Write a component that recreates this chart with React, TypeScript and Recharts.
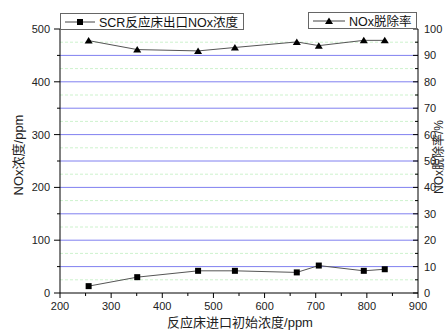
import React from 'react';
import { LineChart, Line, XAxis, YAxis, ReferenceLine, Legend } from 'recharts';

const INLET = [256, 351, 470, 542, 663, 706, 794, 835];
const OUTLET = [13, 30, 42, 42, 39, 52, 42, 45];
const REMOVAL = [95.6, 92.2, 91.7, 93.0, 95.1, 93.7, 95.7, 95.7];

const X_TICKS = [200, 250, 300, 350, 400, 450, 500, 550, 600, 650, 700, 750, 800, 850, 900];
const LEFT_TICKS = [0, 50, 100, 150, 200, 250, 300, 350, 400, 450, 500];
const RIGHT_TICKS = [0, 5, 10, 15, 20, 25, 30, 35, 40, 45, 50, 55, 60, 65, 70, 75, 80, 85, 90, 95, 100];
const MAJOR_GRID = [50, 100, 150, 200, 250, 300, 350, 400, 450];
const MINOR_GRID = [25, 75, 125, 175, 225, 275, 325, 375, 425, 475];

const OUTLET_NAME = 'SCR反应床出口NOx浓度';
const REMOVAL_NAME = 'NOx脱除率';

const FONT = '"Liberation Sans", Arial, "Noto Sans CJK SC", sans-serif';

const data = INLET.map((x, i) => ({ x, outlet: OUTLET[i], removal: REMOVAL[i] }));

const XTick = ({ x, y, payload }: any) => {
  const major = payload.value % 100 === 0;
  return (
    <g>
      <line x1={x} x2={x} y1={y} y2={y + (major ? 5 : 3)} stroke="#000" />
      {major && (
        <text x={x} y={y + 17} textAnchor="middle" fontSize={11} fill="#222" fontFamily={FONT}>
          {payload.value}
        </text>
      )}
    </g>
  );
};

const LeftTick = ({ x, y, payload }: any) => {
  const major = payload.value % 100 === 0;
  return (
    <g>
      <line x1={x - (major ? 6 : 3)} x2={x} y1={y} y2={y} stroke="#000" />
      {major && (
        <text x={x - 10} y={y + 4} textAnchor="end" fontSize={11} fill="#222" fontFamily={FONT}>
          {payload.value}
        </text>
      )}
    </g>
  );
};

const RightTick = ({ x, y, payload }: any) => {
  const major = payload.value % 10 === 0;
  return (
    <g>
      <line x1={x - (major ? 5 : 3)} x2={x} y1={y} y2={y} stroke="#000" />
      {major && (
        <text x={x + 6} y={y + 4} textAnchor="start" fontSize={11} fill="#222" fontFamily={FONT}>
          {payload.value}
        </text>
      )}
    </g>
  );
};

const SquareDot = ({ cx, cy }: any) => (
  <rect x={cx - 3} y={cy - 3} width={6} height={6} fill="#000" />
);

const TriangleDot = ({ cx, cy }: any) => (
  <polygon points={`${cx},${cy - 3.5} ${cx - 4},${cy + 3} ${cx + 4},${cy + 3}`} fill="#000" />
);

const boxStyle: React.CSSProperties = {
  position: 'absolute',
  background: '#fff',
  border: '1px solid #666',
  display: 'flex',
  alignItems: 'center',
  fontFamily: FONT,
  fontSize: 12.5,
  color: '#111',
  whiteSpace: 'nowrap',
  boxSizing: 'border-box',
};

const LegendBoxes = () => (
  <div style={{ position: 'relative', width: 447, height: 333 }}>
    <div style={{ ...boxStyle, left: 60, top: 13, width: 184, height: 17 }}>
      <svg width={34} height={14} style={{ marginLeft: 2 }}>
        <line x1={2} x2={32} y1={7} y2={7} stroke="#444" />
        <rect x={14} y={4} width={6} height={6} fill="#000" />
      </svg>
      <span style={{ marginLeft: 2 }}>{OUTLET_NAME}</span>
    </div>
    <div style={{ ...boxStyle, left: 308, top: 12, width: 109, height: 17 }}>
      <svg width={36} height={14} style={{ marginLeft: 2 }}>
        <line x1={2} x2={34} y1={7} y2={7} stroke="#444" />
        <polygon points="18,3.5 14,10 22,10" fill="#000" />
      </svg>
      <span style={{ marginLeft: 2 }}>{REMOVAL_NAME}</span>
    </div>
  </div>
);

export default function App() {
  return (
    <div style={{ position: 'absolute', left: 0, top: 0, width: 447, height: 333, background: '#fff' }}>
      <LineChart width={447} height={333} data={data} margin={{ top: 29, right: 0, bottom: 15, left: 10 }}>
        {MINOR_GRID.map((v) => (
          <ReferenceLine key={`mi-${v}`} yAxisId="l" y={v} stroke="#cdf2cd" strokeDasharray="3 2" />
        ))}
        {MAJOR_GRID.map((v) => (
          <ReferenceLine key={`ma-${v}`} yAxisId="l" y={v} stroke="#8080f0" />
        ))}
        <XAxis
          dataKey="x"
          type="number"
          domain={[200, 900]}
          ticks={X_TICKS}
          interval={0}
          height={25}
          tickSize={0}
          tickMargin={0}
          tickLine={false}
          axisLine={{ stroke: '#000' }}
          tick={<XTick />}
          label={{
            content: () => (
              <text x={240} y={327} textAnchor="middle" fontSize={13} fill="#222" fontFamily={FONT}>
                反应床进口初始浓度/ppm
              </text>
            ),
          }}
        />
        <YAxis
          yAxisId="l"
          domain={[0, 500]}
          ticks={LEFT_TICKS}
          interval={0}
          width={50}
          tickSize={0}
          tickMargin={0}
          tickLine={false}
          axisLine={{ stroke: '#000' }}
          tick={<LeftTick />}
          label={{
            content: () => (
              <text
                x={18}
                y={155}
                transform="rotate(-90 18 155)"
                textAnchor="middle"
                dominantBaseline="central"
                fontSize={13}
                fill="#222"
                fontFamily={FONT}
              >
                NOx浓度/ppm
              </text>
            ),
          }}
        />
        <YAxis
          yAxisId="r"
          orientation="right"
          domain={[0, 100]}
          ticks={RIGHT_TICKS}
          interval={0}
          width={29}
          tickSize={0}
          tickMargin={0}
          tickLine={false}
          axisLine={{ stroke: '#000' }}
          tick={<RightTick />}
          label={{
            content: () => (
              <text
                x={439}
                y={157}
                transform="rotate(-90 439 157)"
                textAnchor="middle"
                dominantBaseline="central"
                fontSize={12}
                fill="#222"
                fontFamily={FONT}
              >
                NOx脱除率/%
              </text>
            ),
          }}
        />
        <Line
          yAxisId="l"
          dataKey="outlet"
          name={OUTLET_NAME}
          stroke="#555"
          strokeWidth={1}
          dot={<SquareDot />}
          isAnimationActive={false}
        />
        <Line
          yAxisId="r"
          dataKey="removal"
          name={REMOVAL_NAME}
          stroke="#555"
          strokeWidth={1}
          dot={<TriangleDot />}
          isAnimationActive={false}
        />
        <Legend
          layout="horizontal"
          verticalAlign="middle"
          align="center"
          wrapperStyle={{ top: 0, left: 0, width: 447, height: 333, pointerEvents: 'none' }}
          content={() => <LegendBoxes />}
        />
      </LineChart>
    </div>
  );
}
